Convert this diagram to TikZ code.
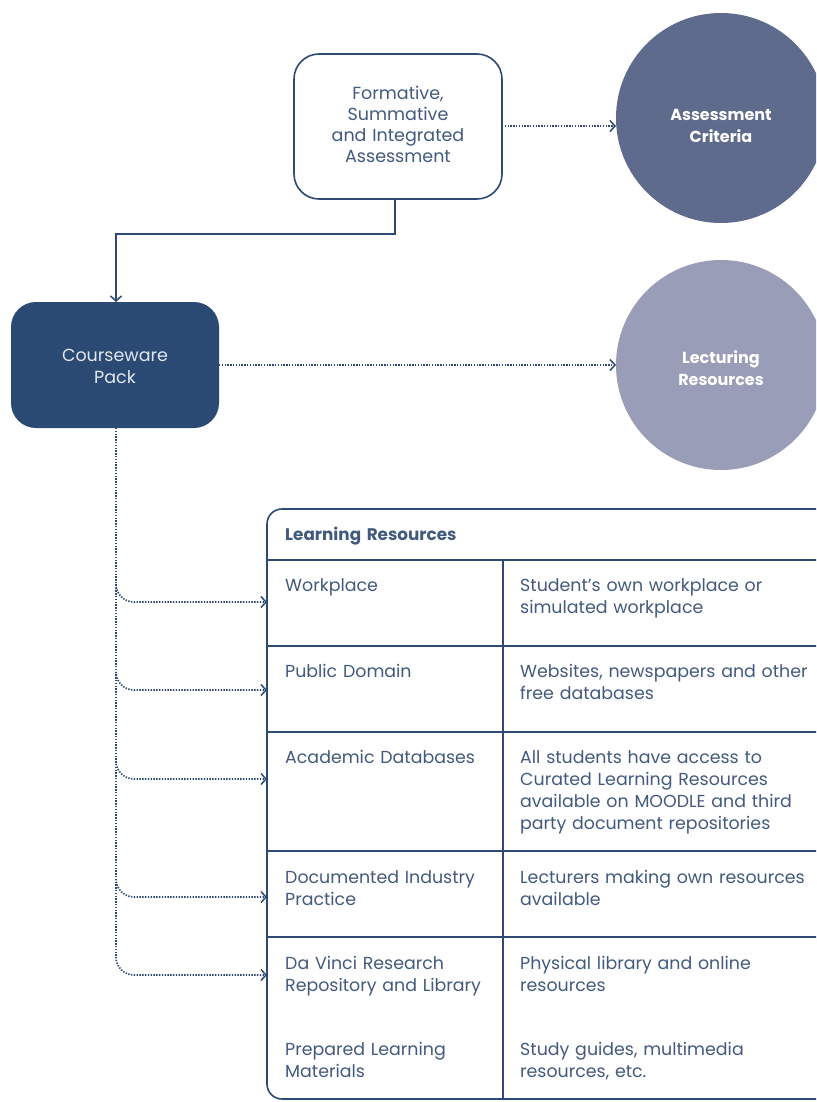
\documentclass[tikz,border=0pt]{standalone}
\usepackage{fontspec}
\setmainfont{Poppins}
\usetikzlibrary{arrows.meta}
\definecolor{navy}{HTML}{2E4A74}
\definecolor{txt}{HTML}{425A7E}
\definecolor{circA}{HTML}{5F6B8C}
\definecolor{circB}{HTML}{9A9DB8}
\definecolor{packfill}{HTML}{2B4A73}
\definecolor{packtxt}{HTML}{E3E8F0}
\tikzset{
  x=1pt, y=-1pt,
  tip/.style={-{Straight Barb[length=5pt,width=11pt,line width=1.5pt]}},
  dotline/.style={navy, dash pattern=on 1.4pt off 1.4pt, line width=1.7pt},
  solidline/.style={navy, line width=1.6pt},
  cell/.style={anchor=base west, inner sep=0pt, text width=320pt, align=left, text=txt, font=\fontsize{17.4}{22}\selectfont},
  circtext/.style={anchor=base, inner sep=0pt, text width=170pt, align=center, text=white, font=\fontsize{16}{22}\selectfont\bfseries},
}
\begin{document}
\begin{tikzpicture}
\clip (0,0) rectangle (816,1102);
\fill[white] (0,0) rectangle (816,1102);

% boxes
\draw[navy, line width=1.6pt, rounded corners=25pt, fill=white] (294,54) rectangle (502,199);
\node[circtext, text=txt, font=\fontsize{17.5}{21}\selectfont] (form) at (398,100) {Formative,\\Summative\\and Integrated\\Assessment};
\coordinate (formR) at (502,126);
\coordinate (formB) at (395,199);

\fill[packfill, rounded corners=25pt] (11,302) rectangle (219,428);
\node[circtext, font=\fontsize{17.5}{22}\selectfont, text=packtxt] (packt) at (115,361) {Courseware\\Pack};
\coordinate (packT) at (116,302);
\coordinate (packR) at (219,365);
\coordinate (packB) at (116,428);

% circles
\fill[circA] (721,118) circle (105);
\node[circtext] (crit) at (721,121) {Assessment\\Criteria};
\coordinate (critL) at (616,126);
\fill[circB] (721,365) circle (105);
\node[circtext] (lect) at (721,363) {Lecturing\\Resources};
\coordinate (lectL) at (616,365);

% table
\draw[navy, line width=1.6pt, rounded corners=15pt] (840,509) -- (267,509) -- (267,1099) -- (840,1099);
\foreach \yy in {560,646,732,851,937} \draw[navy, line width=1.3pt] (267,\yy) -- (840,\yy);
\draw[navy, line width=1.3pt] (503,560) -- (503,1099);

\node[cell, font=\fontsize{16.8}{22}\selectfont\bfseries] (hdr) at (285,540) {Learning Resources};
\node[cell] (l1) at (285,591) {Workplace};
\node[cell] (r1) at (520,591) {Student’s own workplace or\\simulated workplace};
\node[cell] (l2) at (285,677) {Public Domain};
\node[cell] (r2) at (520,677) {Websites, newspapers and other\\free databases};
\node[cell] (l3) at (285,763) {Academic Databases};
\node[cell] (r3) at (520,763) {All students have access to\\Curated Learning Resources\\available on MOODLE and third\\party document repositories};
\node[cell] (l4) at (285,883) {Documented Industry\\Practice};
\node[cell] (r4) at (520,883) {Lecturers making own resources\\available};
\node[cell] (l5) at (285,969) {Da Vinci Research\\Repository and Library};
\node[cell] (r5) at (520,969) {Physical library and online\\resources};
\node[cell] (l6) at (285,1055) {Prepared Learning\\Materials};
\node[cell] (r6) at (520,1055) {Study guides, multimedia\\resources, etc.};

\coordinate (t1) at (267,602);
\coordinate (t2) at (267,690);
\coordinate (t3) at (267,779);
\coordinate (t4) at (267,897);
\coordinate (t5) at (267,975);

% connectors
\draw[solidline, tip] (formB) |- (395,234) -| (packT);
\draw[dotline, tip] (formR) -- (critL);
\draw[dotline, tip] (packR) -- (lectL);
\draw[dotline] (packB) -- (116,958);
\foreach \t in {t1,t2,t3,t4,t5}
  \draw[dotline, tip] (116,0 |- \t) ++(0,-18) to[out=-90,in=180] ++(18,18) -- (\t);
\end{tikzpicture}
\end{document}
